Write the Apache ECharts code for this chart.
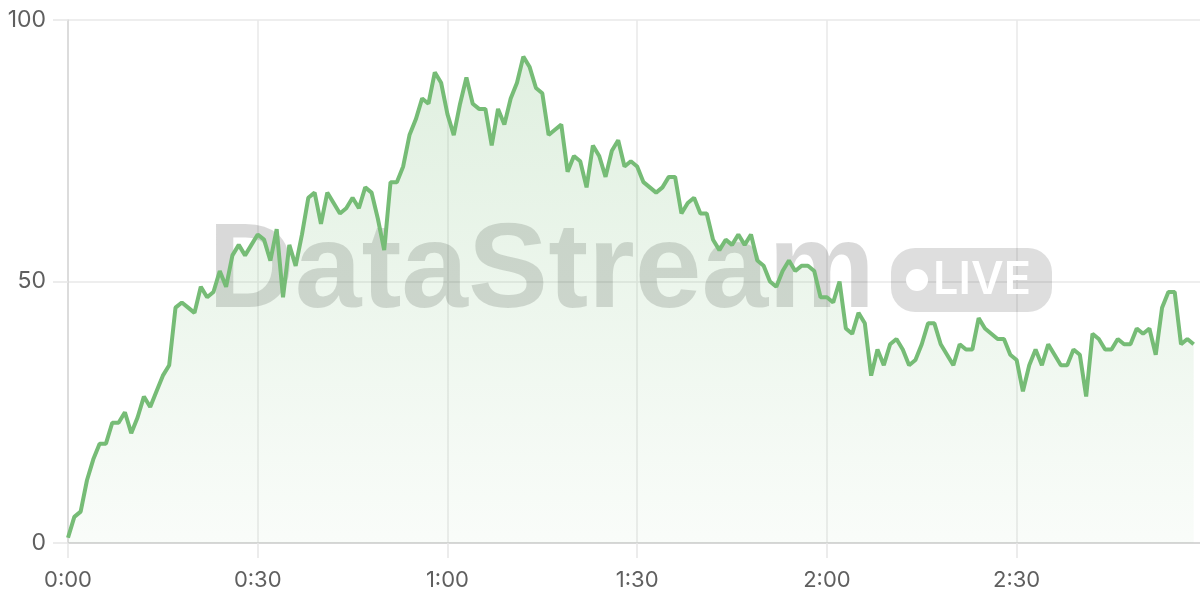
<!DOCTYPE html>
<html>
<head>
<meta charset="utf-8">
<script src="https://cdn.jsdelivr.net/npm/echarts@6/dist/echarts.min.js"></script>
<style>
html,body{margin:0;padding:0;background:#fff;}
#chart{width:1200px;height:600px;}
</style>
</head>
<body>
<div id="chart"></div>
<script>
// Elapsed seconds 0..179 (category axis), labelled m:ss
const seconds = Array.from({length: 180}, (_, i) => i);
const timeLabels = seconds.map(s => Math.floor(s / 60) + ':' + String(s % 60).padStart(2, '0'));

// Stream values, one per second
const values = [
  1, 5, 6, 12, 16, 19, 19, 23, 23, 25,
  21, 24, 28, 26, 29, 32, 34, 45, 46, 45,
  44, 49, 47, 48, 52, 49, 55, 57, 55, 57,
  59, 58, 54, 60, 47, 57, 53, 59, 66, 67,
  61, 67, 65, 63, 64, 66, 64, 68, 67, 62,
  56, 69, 69, 72, 78, 81, 85, 84, 90, 88,
  82, 78, 84, 89, 84, 83, 83, 76, 83, 80,
  85, 88, 93, 91, 87, 86, 78, 79, 80, 71,
  74, 73, 68, 76, 74, 70, 75, 77, 72, 73,
  72, 69, 68, 67, 68, 70, 70, 63, 65, 66,
  63, 63, 58, 56, 58, 57, 59, 57, 59, 54,
  53, 50, 49, 52, 54, 52, 53, 53, 52, 47,
  47, 46, 50, 41, 40, 44, 42, 32, 37, 34,
  38, 39, 37, 34, 35, 38, 42, 42, 38, 36,
  34, 38, 37, 37, 43, 41, 40, 39, 39, 36,
  35, 29, 34, 37, 34, 38, 36, 34, 34, 37,
  36, 28, 40, 39, 37, 37, 39, 38, 38, 41,
  40, 41, 36, 45, 48, 48, 38, 39, 38
];

const watermarkText = 'DataStream';
const badgeText = 'LIVE';

const lineColor = '#76bc76';
const labelFont = 'Inter, "Noto Sans", sans-serif';

const chart = echarts.init(document.getElementById('chart'), null, {renderer: 'canvas'});
chart.setOption({
  animation: false,
  backgroundColor: '#ffffff',
  grid: {left: 68, right: 0, top: 20, bottom: 57, containLabel: false},
  xAxis: {
    type: 'category',
    data: timeLabels,
    boundaryGap: false,
    axisLine: {show: true, lineStyle: {color: '#cfcfcf', width: 1.5}},
    axisTick: {show: true, length: 15, interval: 29, lineStyle: {color: '#e6e6e6', width: 1.5}},
    axisLabel: {interval: 29, color: '#5f5f5f', fontSize: 22, fontFamily: labelFont, margin: 26},
    splitLine: {show: true, interval: 29, lineStyle: {color: '#e9e9e9', width: 1.5}}
  },
  yAxis: {
    type: 'value',
    min: 0, max: 100, interval: 50,
    axisLine: {show: true, lineStyle: {color: '#d6d6d6', width: 1.5}},
    axisTick: {show: true, length: 15, lineStyle: {color: '#e6e6e6', width: 1.5}},
    axisLabel: {color: '#5f5f5f', fontSize: 23, fontFamily: labelFont, margin: 22},
    splitLine: {show: true, lineStyle: {color: '#e9e9e9', width: 1.5}}
  },
  graphic: [
    {
      type: 'text', z: 1, silent: true,
      left: 208, top: 214,
      style: {
        text: watermarkText,
        font: 'bold 120px "Liberation Sans", Arial, sans-serif',
        fill: 'rgba(0,0,0,0.15)'
      }
    },
    {
      type: 'rect', z: 1, silent: true,
      shape: {x: 891, y: 248, width: 161, height: 64, r: 24},
      style: {fill: 'rgba(0,0,0,0.13)'}
    },
    {
      type: 'circle', z: 1, silent: true,
      shape: {cx: 917, cy: 280, r: 11},
      style: {fill: '#ffffff'}
    },
    {
      type: 'text', z: 1, silent: true,
      left: 933, top: 258,
      style: {
        text: badgeText,
        font: '600 45px Inter, "Liberation Sans", Arial, sans-serif',
        fill: '#ffffff'
      }
    }
  ],
  series: [{
    type: 'line',
    data: values,
    symbol: 'none',
    smooth: false,
    lineStyle: {color: lineColor, width: 4},
    areaStyle: {
      color: new echarts.graphic.LinearGradient(0, 0, 0, 1, [
        {offset: 0, color: 'rgba(118,188,118,0.32)'},
        {offset: 1, color: 'rgba(118,188,118,0.06)'}
      ])
    },
    z: 3
  }]
});
</script>
</body>
</html>
